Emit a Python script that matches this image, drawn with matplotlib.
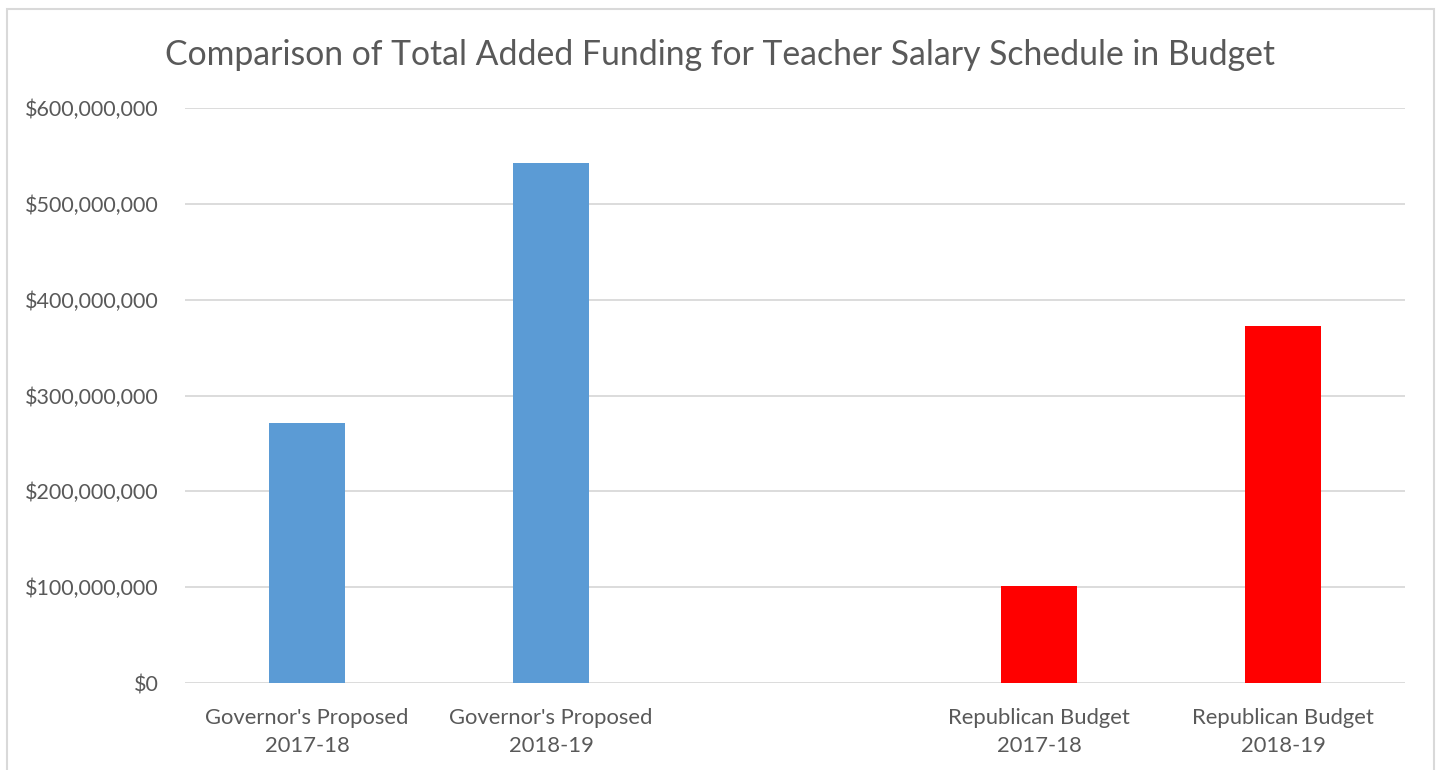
import numpy as np
import matplotlib
matplotlib.use("Agg")
import matplotlib.pyplot as plt
from matplotlib.patches import Rectangle
from matplotlib.ticker import FuncFormatter

TITLE = "Comparison of Total Added Funding for Teacher Salary Schedule in Budget"
categories = ["Governor's Proposed\n2017-18", "Governor's Proposed\n2018-19", "",
              "Republican Budget\n2017-18", "Republican Budget\n2018-19"]
governor = {"Governor's Proposed\n2017-18": 271_000_000, "Governor's Proposed\n2018-19": 542_500_000}
republican = {"Republican Budget\n2017-18": 101_500_000, "Republican Budget\n2018-19": 372_500_000}

TXT = "#595959"
plt.rcParams["font.family"] = ["Lato", "DejaVu Sans"]

fig = plt.figure(figsize=(14.4, 7.7), dpi=100)
ax = fig.add_axes([185/1440, 1 - 683/770, 1220/1440, 575/770])

x = np.arange(len(categories))
idx = {c: i for i, c in enumerate(categories)}
ax.bar([idx[c] for c in governor], list(governor.values()), width=0.31, color="#5B9BD5", zorder=3)
ax.bar([idx[c] for c in republican], list(republican.values()), width=0.31, color="#FF0000", zorder=3)

ax.set_xlim(-0.5, len(categories) - 0.5)
ax.set_ylim(0, 600_000_000)
ax.set_yticks(np.arange(0, 600_000_001, 100_000_000))
ax.yaxis.set_major_formatter(FuncFormatter(lambda v, _: f"${v:,.0f}"))
ax.set_xticks(x)
ax.set_xticklabels(categories, fontsize=15.8, color=TXT, linespacing=1.5)
ax.tick_params(axis="y", labelsize=15.5, labelcolor=TXT, length=0, pad=19)
ax.tick_params(axis="x", length=0, pad=18)
ax.grid(axis="y", color="#D9D9D9", linewidth=1.3, zorder=0)
for s in ax.spines.values():
    s.set_visible(False)

fig.text(720/1440, 1 - 55/770, TITLE, ha="center", va="center", fontsize=24.3, color=TXT)
fig.patches.append(Rectangle((7/1440, -0.01), 1427/1440, 1 - 9/770 + 0.01,
                             transform=fig.transFigure, fill=False,
                             edgecolor="#D9D9D9", linewidth=1.5))

fig.savefig("out.png", dpi=100)
